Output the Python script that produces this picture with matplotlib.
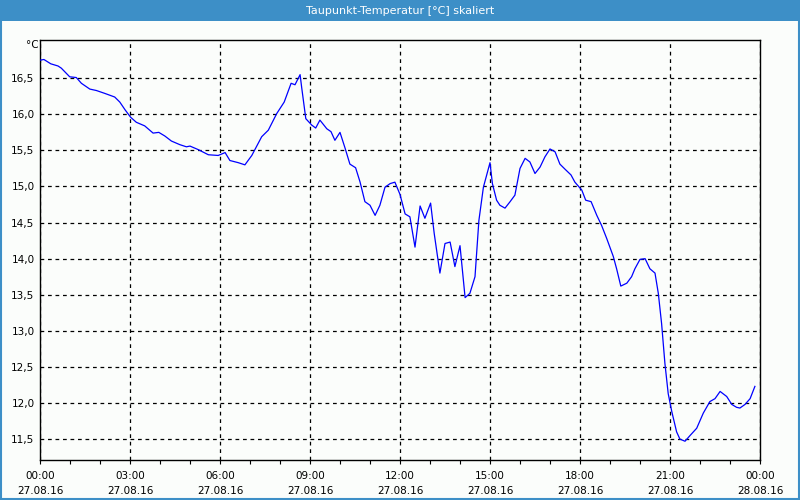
import numpy as np
import matplotlib
matplotlib.use("Agg")
import matplotlib.pyplot as plt
from matplotlib.patches import Rectangle
from matplotlib.ticker import FixedLocator, MultipleLocator, FuncFormatter

# Taupunkt over the day, hours since 27.08.16 00:00
hours = [0.0, 0.13, 0.36, 0.6, 0.71, 0.99, 1.21, 1.38, 1.66, 1.88, 2.16, 2.49,
         2.66, 2.84, 3.02, 3.21, 3.49, 3.77, 3.96, 4.16, 4.38, 4.66, 4.88, 5.0,
         5.28, 5.61, 5.94, 6.17, 6.33, 6.61, 6.83, 7.06, 7.39, 7.61, 7.89, 8.14,
         8.37, 8.5, 8.67, 8.72, 8.86, 9.06, 9.19, 9.33, 9.56, 9.7, 9.83, 10.0,
         10.17, 10.33, 10.52, 10.67, 10.83, 11.0, 11.17, 11.33, 11.5, 11.67,
         11.83, 12.0, 12.17, 12.33, 12.5, 12.67, 12.83, 13.02, 13.14, 13.33,
         13.5, 13.67, 13.83, 14.0, 14.17, 14.33, 14.5, 14.63, 14.78, 15.0, 15.08,
         15.22, 15.33, 15.5, 15.67, 15.83, 16.0, 16.17, 16.33, 16.5, 16.67,
         16.83, 17.0, 17.17, 17.33, 17.5, 17.7, 17.83, 18.06, 18.19, 18.37,
         18.56, 18.72, 18.89, 19.11, 19.22, 19.36, 19.56, 19.72, 19.83, 20.0,
         20.17, 20.33, 20.5, 20.61, 20.72, 20.83, 20.94, 21.06, 21.22, 21.33,
         21.5, 21.67, 21.89, 22.11, 22.33, 22.5, 22.67, 22.89, 23.06, 23.22,
         23.33, 23.5, 23.67, 23.83]
temps = [16.75, 16.76, 16.70, 16.67, 16.64, 16.52, 16.51, 16.43, 16.35, 16.33,
         16.29, 16.24, 16.17, 16.06, 15.96, 15.89, 15.84, 15.74, 15.75, 15.70,
         15.63, 15.58, 15.55, 15.56, 15.51, 15.44, 15.43, 15.47, 15.36, 15.33,
         15.30, 15.43, 15.69, 15.78, 16.01, 16.17, 16.43, 16.41, 16.55, 16.38,
         15.94, 15.85, 15.81, 15.92, 15.80, 15.76, 15.64, 15.75, 15.53, 15.31,
         15.26, 15.06, 14.79, 14.74, 14.60, 14.74, 14.99, 15.04, 15.06, 14.89,
         14.62, 14.58, 14.16, 14.73, 14.56, 14.77, 14.35, 13.80, 14.21, 14.23,
         13.89, 14.18, 13.46, 13.52, 13.75, 14.53, 14.99, 15.33, 15.04, 14.81,
         14.74, 14.70, 14.79, 14.88, 15.25, 15.39, 15.34, 15.18, 15.27, 15.41,
         15.52, 15.48, 15.31, 15.24, 15.16, 15.06, 14.95, 14.81, 14.79, 14.60,
         14.46, 14.28, 14.03, 13.86, 13.62, 13.66, 13.75, 13.86, 13.99, 14.00,
         13.86, 13.80, 13.52, 13.10, 12.55, 12.13, 11.88, 11.60, 11.50, 11.47,
         11.55, 11.65, 11.86, 12.02, 12.06, 12.16, 12.09, 11.98, 11.94, 11.93,
         11.98, 12.06, 12.23]

xtick_pos = [0, 3, 6, 9, 12, 15, 18, 21, 24]
xtick_labels = ["00:00\n27.08.16", "03:00\n27.08.16", "06:00\n27.08.16",
                "09:00\n27.08.16", "12:00\n27.08.16", "15:00\n27.08.16",
                "18:00\n27.08.16", "21:00\n27.08.16", "00:00\n28.08.16"]
title = "Taupunkt-Temperatur [°C] skaliert"

bg = "#fbfdfb"
frame = "#3d8fc7"

fig = plt.figure(figsize=(8, 5), dpi=100, facecolor=bg)

# title bar and outer frame
fig.patches.append(Rectangle((0, 0.958), 1, 0.042, transform=fig.transFigure,
                             facecolor=frame, edgecolor="none", zorder=0))
fig.patches.append(Rectangle((0.001, 0.002), 0.998, 0.997, transform=fig.transFigure,
                             facecolor="none", edgecolor=frame, linewidth=1.5, zorder=1))
fig.text(0.5, 0.979, title, color="white", ha="center", va="center", fontsize=8)

ax = fig.add_axes([0.05, 0.08, 0.90, 0.84], facecolor=bg)
ax.plot(hours, temps, color="#0000ff", linewidth=0.9, zorder=3)

ax.set_xlim(0, 24)
ax.set_ylim(11.21, 17.03)
ax.xaxis.set_major_locator(FixedLocator(xtick_pos))
ax.set_xticklabels(xtick_labels, linespacing=1.6)
ax.xaxis.set_minor_locator(MultipleLocator(1))
ax.yaxis.set_major_locator(FixedLocator(np.arange(11.5, 16.51, 0.5)))
ax.yaxis.set_major_formatter(FuncFormatter(lambda v, p: f"{v:.1f}".replace(".", ",")))

ax.grid(True, which="major", color="black", linestyle=(0, (3, 3)), linewidth=0.9)
ax.tick_params(axis="x", which="both", direction="out", length=3, width=0.8,
               labelsize=7.5, pad=5, colors="black")
ax.tick_params(axis="y", length=0, labelsize=7.5, pad=4)
for s in ax.spines.values():
    s.set_linewidth(1)
    s.set_color("black")

fig.text(0.048, 0.91, "°C", ha="right", va="center", fontsize=7.5)

plt.savefig("out.png", dpi=100, facecolor=bg)
